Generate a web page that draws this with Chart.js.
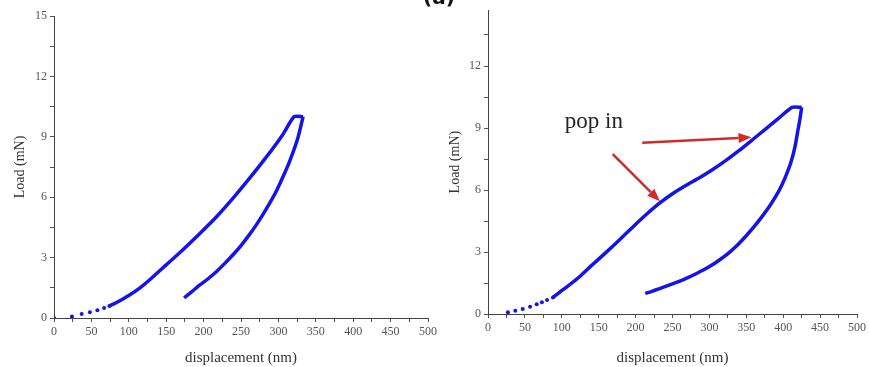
<!DOCTYPE html>
<html>
<head>
<meta charset="utf-8">
<script src="https://cdn.jsdelivr.net/npm/chart.js@4.4.1/dist/chart.umd.min.js"></script>
<style>
html, body { margin: 0; padding: 0; background: #fff; width: 869px; height: 367px; overflow: hidden; position: relative; }
.box { position: absolute; top: 0; height: 367px; }
#tag { position: absolute; left: 423px; top: -15px; font: bold 20px "DejaVu Sans", sans-serif; color: #111; }
</style>
</head>
<body>
<div class="box" style="left:0;width:440px"><canvas id="leftChart"></canvas></div>
<div class="box" style="left:440px;width:429px"><canvas id="rightChart"></canvas></div>
<div id="tag">(a)</div>
<script>
// tick labels
const xTickLabels = [0, 50, 100, 150, 200, 250, 300, 350, 400, 450, 500];
const yTickLabels = [0, 3, 6, 9, 12, 15];

// left panel: displacement (nm), load (mN)
const leftStart = [[0, 0], [24, 0.07], [37, 0.2], [48, 0.28], [58, 0.38], [67, 0.5], [74, 0.6]];
const leftLoad = [[74, 0.6], [80, 0.7], [88, 0.86], [100, 1.12], [115, 1.5], [128, 1.9], [150, 2.64],
    [172, 3.38], [195, 4.2], [217, 5.02], [240, 5.98], [261, 6.92], [284, 8.0], [306, 9.12], [321, 10], [333, 10]];
const leftUnload = [[333, 10], [326, 8.94], [315, 7.78], [306, 7.0], [297, 6.28], [288, 5.68], [279, 5.12],
    [270, 4.6], [261, 4.13], [250, 3.6], [239, 3.13], [228, 2.7], [217, 2.3], [206, 1.95], [195, 1.64],
    [184, 1.3], [174, 1.0]];

// right panel
const rightStart = [[27, 0.08], [37, 0.16], [47, 0.24], [57, 0.35], [66, 0.47], [73, 0.57], [80, 0.68], [88, 0.8]];
const rightLoad = [[88, 0.8], [97, 1.05], [110, 1.4], [124, 1.8], [142, 2.4], [160, 2.98], [178, 3.58],
    [196, 4.2], [214, 4.8], [232, 5.35], [250, 5.82], [268, 6.22], [286, 6.58], [304, 6.98], [322, 7.42],
    [340, 7.9], [358, 8.42], [376, 8.95], [394, 9.48], [412, 10], [425, 10]];
const rightUnload = [[425, 10], [423, 9.5], [420, 8.9], [416, 8.1], [411, 7.4], [405, 6.8], [399, 6.3],
    [394, 5.95], [383, 5.3], [372, 4.75], [360, 4.2], [349, 3.75], [337, 3.3], [326, 2.95], [315, 2.65],
    [304, 2.38], [293, 2.15], [282, 1.95], [270, 1.75], [259, 1.58], [248, 1.43], [237, 1.29], [226, 1.15],
    [218, 1.05], [213, 1.0]];

// "pop in" note and arrows, in data units
const popText = "pop in";
const popTextAt = [104, 9.0];
const popArrows = [[209, 8.29, 357, 8.55], [169, 7.74, 233, 5.45]];

const blue = "#1414ea";
const serif = "'Liberation Serif', 'Times New Roman', serif";

function pts(arr) {
    return arr.map(p => ({ x: p[0], y: p[1] }));
}

function sets(start, load, unload) {
    return [
        { data: pts(start), showLine: false, pointRadius: 2, pointBackgroundColor: blue, pointBorderWidth: 0 },
        { data: pts(load), showLine: true, borderColor: blue, borderWidth: 3.5, pointRadius: 0, tension: 0.2 },
        { data: pts(unload), showLine: true, borderColor: blue, borderWidth: 3.5, pointRadius: 0, tension: 0.2 }
    ];
}

function near(list, v) {
    return list.some(t => Math.abs(t - v) < 1e-6);
}

function axes(yMax, yWidth, xHeight, yTitlePad) {
    return {
        x: {
            type: "linear", min: 0, max: 500,
            ticks: { stepSize: 25, autoSkip: false, maxRotation: 0, padding: 3, color: "#555",
                font: { family: serif, size: 12 },
                callback: v => near(xTickLabels, v) ? v : "" },
            grid: { drawOnChartArea: false, tickLength: 4, color: "#555" },
            border: { color: "#444", width: 1 },
            title: { display: true, text: "displacement (nm)", color: "#333", padding: 0,
                font: { family: serif, size: 15 } },
            afterFit: s => { s.height = xHeight; }
        },
        y: {
            type: "linear", min: 0, max: yMax,
            afterBuildTicks: s => {
                s.ticks = s.ticks.filter(t => Math.abs(t.value / 1.5 - Math.round(t.value / 1.5)) < 1e-6);
            },
            ticks: { stepSize: 1.5, autoSkip: false, padding: 3, color: "#555",
                font: { family: serif, size: 12 },
                callback: v => near(yTickLabels, v) ? v : "" },
            grid: { drawOnChartArea: false, tickLength: 4, color: "#555" },
            border: { color: "#444", width: 1 },
            title: { display: true, text: "Load (mN)", color: "#333", padding: yTitlePad,
                font: { family: serif, size: 14 } },
            afterFit: s => { s.width = yWidth; }
        }
    };
}

function arrow(ctx, x1, y1, x2, y2) {
    const a = Math.atan2(y2 - y1, x2 - x1);
    const len = 13, half = 5;
    const bx = x2 - len * Math.cos(a), by = y2 - len * Math.sin(a);
    ctx.beginPath();
    ctx.moveTo(x1, y1);
    ctx.lineTo(bx, by);
    ctx.stroke();
    ctx.beginPath();
    ctx.moveTo(x2, y2);
    ctx.lineTo(bx + half * Math.sin(a), by - half * Math.cos(a));
    ctx.lineTo(bx - half * Math.sin(a), by + half * Math.cos(a));
    ctx.closePath();
    ctx.fill();
}

const popInNote = {
    id: "popInNote",
    afterDatasetsDraw(chart) {
        const { ctx, scales: { x, y } } = chart;
        ctx.save();
        ctx.fillStyle = "#222";
        ctx.font = "23px " + serif;
        ctx.textBaseline = "alphabetic";
        ctx.fillText(popText, x.getPixelForValue(popTextAt[0]), y.getPixelForValue(popTextAt[1]));
        ctx.strokeStyle = "#d12a2a";
        ctx.fillStyle = "#d12a2a";
        ctx.lineWidth = 2.5;
        popArrows.forEach(a => arrow(ctx,
            x.getPixelForValue(a[0]), y.getPixelForValue(a[1]),
            x.getPixelForValue(a[2]), y.getPixelForValue(a[3])));
        ctx.restore();
    }
};

const common = {
    responsive: true,
    maintainAspectRatio: false,
    animation: false,
    plugins: { legend: { display: false }, tooltip: { enabled: false } }
};

// left panel
new Chart(document.getElementById("leftChart"), {
    type: "scatter",
    data: { datasets: sets(leftStart, leftLoad, leftUnload) },
    options: Object.assign({}, common, {
        layout: { padding: { left: 0, right: 11, top: 16, bottom: 0 } },
        scales: axes(15, 54, 49, 12)
    })
});

// right panel
new Chart(document.getElementById("rightChart"), {
    type: "scatter",
    data: { datasets: sets(rightStart, rightLoad, rightUnload) },
    options: Object.assign({}, common, {
        layout: { padding: { left: 0, right: 11, top: 10, bottom: 0 } },
        scales: axes(14.7, 48, 53, 7)
    }),
    plugins: [popInNote]
});
</script>
</body>
</html>
